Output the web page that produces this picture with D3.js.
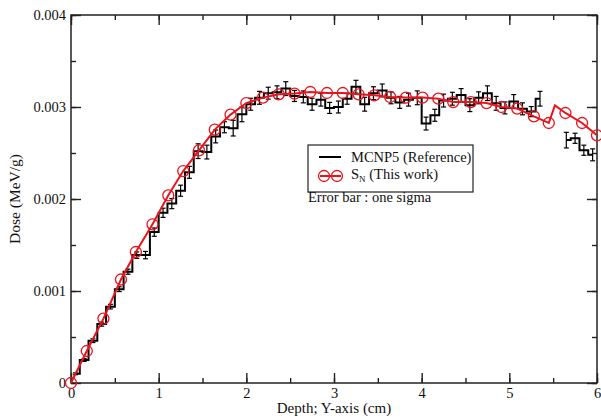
<!DOCTYPE html>
<html>
<head>
<meta charset="utf-8">
<script src="https://cdn.jsdelivr.net/npm/d3@7"></script>
<style>
  body { margin: 0; background: #fff; }
  text { font-family: "Liberation Serif", "Times New Roman", serif; fill: #111; }
</style>
</head>
<body>
<script>
// MCNP5 reference: bin centres (cm), dose (MeV/g), one-sigma error
var mcnpX = [0.05, 0.15, 0.25, 0.35, 0.45, 0.55, 0.65, 0.75, 0.85, 0.95,
             1.05, 1.15, 1.25, 1.35, 1.45, 1.55, 1.65, 1.75, 1.85, 1.95,
             2.05, 2.15, 2.25, 2.35, 2.45, 2.55, 2.65, 2.75, 2.85, 2.95,
             3.05, 3.15, 3.25, 3.35, 3.45, 3.55, 3.65, 3.75, 3.85, 3.95,
             4.05, 4.15, 4.25, 4.35, 4.45, 4.55, 4.65, 4.75, 4.85, 4.95,
             5.05, 5.15, 5.25, 5.35,
             5.65, 5.75, 5.85, 5.95];
var mcnpY = [0.00010, 0.00025, 0.00046, 0.00064, 0.00083, 0.00102, 0.00121, 0.00139, 0.00139, 0.00164,
             0.00185, 0.00195, 0.00209, 0.00229, 0.00252, 0.00251, 0.00268, 0.00278, 0.00277, 0.00292,
             0.00303, 0.00310, 0.00315, 0.00316, 0.00320, 0.00312, 0.00311, 0.00303, 0.00308, 0.00299,
             0.00300, 0.00309, 0.00322, 0.00303, 0.00315, 0.00318, 0.00310, 0.00305, 0.00308, 0.00310,
             0.00282, 0.00291, 0.00307, 0.00309, 0.00313, 0.00302, 0.00310, 0.00315, 0.00304, 0.00299,
             0.00306, 0.00298, 0.00295, 0.00309,
             0.00264, 0.00266, 0.00253, 0.00248];
var mcnpErr = [0.000010, 0.000015, 0.000020, 0.000022, 0.000025, 0.000026, 0.000028, 0.000035, 0.000040, 0.000045,
               0.000050, 0.000055, 0.000060, 0.000065, 0.000080, 0.000075, 0.000070, 0.000060, 0.000085, 0.000080,
               0.000065, 0.000070, 0.000065, 0.000070, 0.000075, 0.000060, 0.000065, 0.000065, 0.000070, 0.000060,
               0.000065, 0.000060, 0.000070, 0.000075, 0.000070, 0.000070, 0.000065, 0.000065, 0.000070, 0.000075,
               0.000070, 0.000065, 0.000070, 0.000070, 0.000070, 0.000070, 0.000065, 0.000080, 0.000075, 0.000065,
               0.000075, 0.000065, 0.000055, 0.000080,
               0.000085, 0.000055, 0.000055, 0.000065];

// SN (this work)
var snX = [0.00, 0.18, 0.37, 0.57, 0.74, 0.93, 1.11, 1.28, 1.46, 1.64,
           1.82, 2.00, 2.19, 2.37, 2.55, 2.73, 2.92, 3.10, 3.28, 3.46,
           3.64, 3.82, 4.01, 4.19, 4.36, 4.56, 4.74, 4.91, 5.09, 5.28,
           5.45, 5.52, 5.64, 5.83, 6.00];
var snY = [0.00000, 0.000348, 0.000700, 0.001125, 0.001424, 0.001725, 0.002040, 0.002304, 0.002529, 0.002754,
           0.002917, 0.003043, 0.003102, 0.003138, 0.003146, 0.003163, 0.003152, 0.003152, 0.003138, 0.003127,
           0.003109, 0.003102, 0.003102, 0.003091, 0.003054, 0.003054, 0.003043, 0.003000, 0.002983, 0.002899,
           0.002826, 0.003018, 0.002935, 0.002826, 0.002692];
var snUnmarked = [5.52];

var xTicks = [0, 1, 2, 3, 4, 5, 6];
var yTicks = [0, 0.001, 0.002, 0.003, 0.004];
var yTickLabels = ["0", "0.001", "0.002", "0.003", "0.004"];

var totalWidth = 601, totalHeight = 419;
var margin = {top: 15, right: 4, bottom: 36, left: 71};
var width = totalWidth - margin.left - margin.right;
var height = totalHeight - margin.top - margin.bottom;

var svg = d3.select("body").append("svg")
    .attr("width", totalWidth)
    .attr("height", totalHeight);
svg.append("rect").attr("width", totalWidth).attr("height", totalHeight).attr("fill", "#fff");

var g = svg.append("g")
    .attr("transform", "translate(" + margin.left + "," + margin.top + ")");

var xScale = d3.scaleLinear().domain([0, 6]).range([0, width]);
var yScale = d3.scaleLinear().domain([0, 0.004]).range([height, 0]);

// ticks on all four sides, pointing inward
var xMinor = d3.range(0, 6.01, 0.5);
var yMinor = d3.range(0, 0.00401, 0.0005);

function addAxis(axis, tr) {
    var a = g.append("g").attr("transform", tr).call(axis);
    a.select(".domain").remove();
    a.selectAll("line").attr("stroke", "#222").attr("stroke-width", 1.4);
    return a;
}

addAxis(d3.axisBottom(xScale).tickValues(xMinor).tickSize(-5).tickFormat(""), "translate(0," + height + ")");
addAxis(d3.axisTop(xScale).tickValues(xMinor).tickSize(-5).tickFormat(""), "translate(0,0)");
addAxis(d3.axisLeft(yScale).tickValues(yMinor).tickSize(-5).tickFormat(""), "translate(0,0)");
addAxis(d3.axisRight(yScale).tickValues(yMinor).tickSize(-5).tickFormat(""), "translate(" + width + ",0)");

var xb = addAxis(d3.axisBottom(xScale).tickValues(xTicks).tickSize(-10).tickPadding(5).tickFormat(d3.format("d")), "translate(0," + height + ")");
addAxis(d3.axisTop(xScale).tickValues(xTicks).tickSize(-10).tickFormat(""), "translate(0,0)");
var yl = addAxis(d3.axisLeft(yScale).tickValues(yTicks).tickSize(-10).tickPadding(5)
    .tickFormat(function(d, i){ return yTickLabels[i]; }), "translate(0,0)");
addAxis(d3.axisRight(yScale).tickValues(yTicks).tickSize(-10).tickFormat(""), "translate(" + width + ",0)");

xb.selectAll("text").attr("font-size", 14.5).attr("font-family", "Liberation Serif").attr("fill", "#111");
yl.selectAll("text").attr("font-size", 14.5).attr("font-family", "Liberation Serif").attr("fill", "#111");

// frame
g.append("rect").attr("width", width).attr("height", height)
    .attr("fill", "none").attr("stroke", "#222").attr("stroke-width", 1.5);

// MCNP5 histogram, split where bins are missing
var mcnpData = mcnpX.map(function(x, i){ return {x: x, y: mcnpY[i], e: mcnpErr[i]}; });
var segments = [[]];
mcnpData.forEach(function(d, i){
    if (i > 0 && d.x - mcnpData[i - 1].x > 0.15) segments.push([]);
    segments[segments.length - 1].push(d);
});

var stepLine = d3.line()
    .x(function(d){ return xScale(d.x); })
    .y(function(d){ return yScale(d.y); })
    .curve(d3.curveStep);

g.selectAll(".mcnp").data(segments).enter().append("path")
    .attr("class", "mcnp")
    .attr("d", stepLine)
    .attr("fill", "none").attr("stroke", "#000").attr("stroke-width", 2);

var bars = g.selectAll(".err").data(mcnpData).enter().append("g").attr("class", "err")
    .attr("stroke", "#000").attr("stroke-width", 1.2);
bars.append("line")
    .attr("x1", function(d){ return xScale(d.x); }).attr("x2", function(d){ return xScale(d.x); })
    .attr("y1", function(d){ return yScale(d.y - d.e); }).attr("y2", function(d){ return yScale(d.y + d.e); });
bars.append("line")
    .attr("x1", function(d){ return xScale(d.x) - 2.5; }).attr("x2", function(d){ return xScale(d.x) + 2.5; })
    .attr("y1", function(d){ return yScale(d.y + d.e); }).attr("y2", function(d){ return yScale(d.y + d.e); });
bars.append("line")
    .attr("x1", function(d){ return xScale(d.x) - 2.5; }).attr("x2", function(d){ return xScale(d.x) + 2.5; })
    .attr("y1", function(d){ return yScale(d.y - d.e); }).attr("y2", function(d){ return yScale(d.y - d.e); });

// SN line with circles
var snData = snX.map(function(x, i){ return {x: x, y: snY[i]}; });
var line = d3.line()
    .x(function(d){ return xScale(d.x); })
    .y(function(d){ return yScale(d.y); });

g.append("path").datum(snData).attr("d", line)
    .attr("fill", "none").attr("stroke", "#e8141c").attr("stroke-width", 2);

g.selectAll(".sn").data(snData.filter(function(d){ return snUnmarked.indexOf(d.x) < 0; }))
    .enter().append("circle").attr("class", "sn")
    .attr("cx", function(d){ return xScale(d.x); })
    .attr("cy", function(d){ return yScale(d.y); })
    .attr("r", 5.5)
    .attr("fill", "none").attr("stroke", "#e8141c").attr("stroke-width", 1.3);

// axis titles
svg.append("text")
    .attr("x", margin.left + width / 2).attr("y", 413)
    .attr("text-anchor", "middle").attr("font-size", 15)
    .text("Depth; Y-axis (cm)");
svg.append("text")
    .attr("transform", "translate(20," + (margin.top + height / 2) + ") rotate(-90)")
    .attr("text-anchor", "middle").attr("font-size", 15.5)
    .text("Dose (MeV/g)");

// legend
var lg = svg.append("g").attr("transform", "translate(308,145)");
lg.append("rect").attr("width", 165).attr("height", 47)
    .attr("fill", "#fff").attr("stroke", "#222").attr("stroke-width", 1.2);
lg.append("line").attr("x1", 11).attr("x2", 33).attr("y1", 12).attr("y2", 12)
    .attr("stroke", "#000").attr("stroke-width", 2);
lg.append("text").attr("x", 43).attr("y", 17).attr("font-size", 14.5).text("MCNP5 (Reference)");
lg.append("line").attr("x1", 12).attr("x2", 33).attr("y1", 31).attr("y2", 31)
    .attr("stroke", "#e8141c").attr("stroke-width", 2);
[16, 29].forEach(function(cx){
    lg.append("circle").attr("cx", cx).attr("cy", 31).attr("r", 5.5)
      .attr("fill", "none").attr("stroke", "#e8141c").attr("stroke-width", 1.3);
});
var t2 = lg.append("text").attr("x", 43).attr("y", 34).attr("font-size", 14.5);
t2.append("tspan").text("S");
t2.append("tspan").attr("font-size", 9).attr("dy", 3).text("N");
t2.append("tspan").attr("dy", -3).text(" (This work)");

svg.append("text").attr("x", 308).attr("y", 202).attr("font-size", 14.5).text("Error bar : one sigma");
</script>
</body>
</html>
